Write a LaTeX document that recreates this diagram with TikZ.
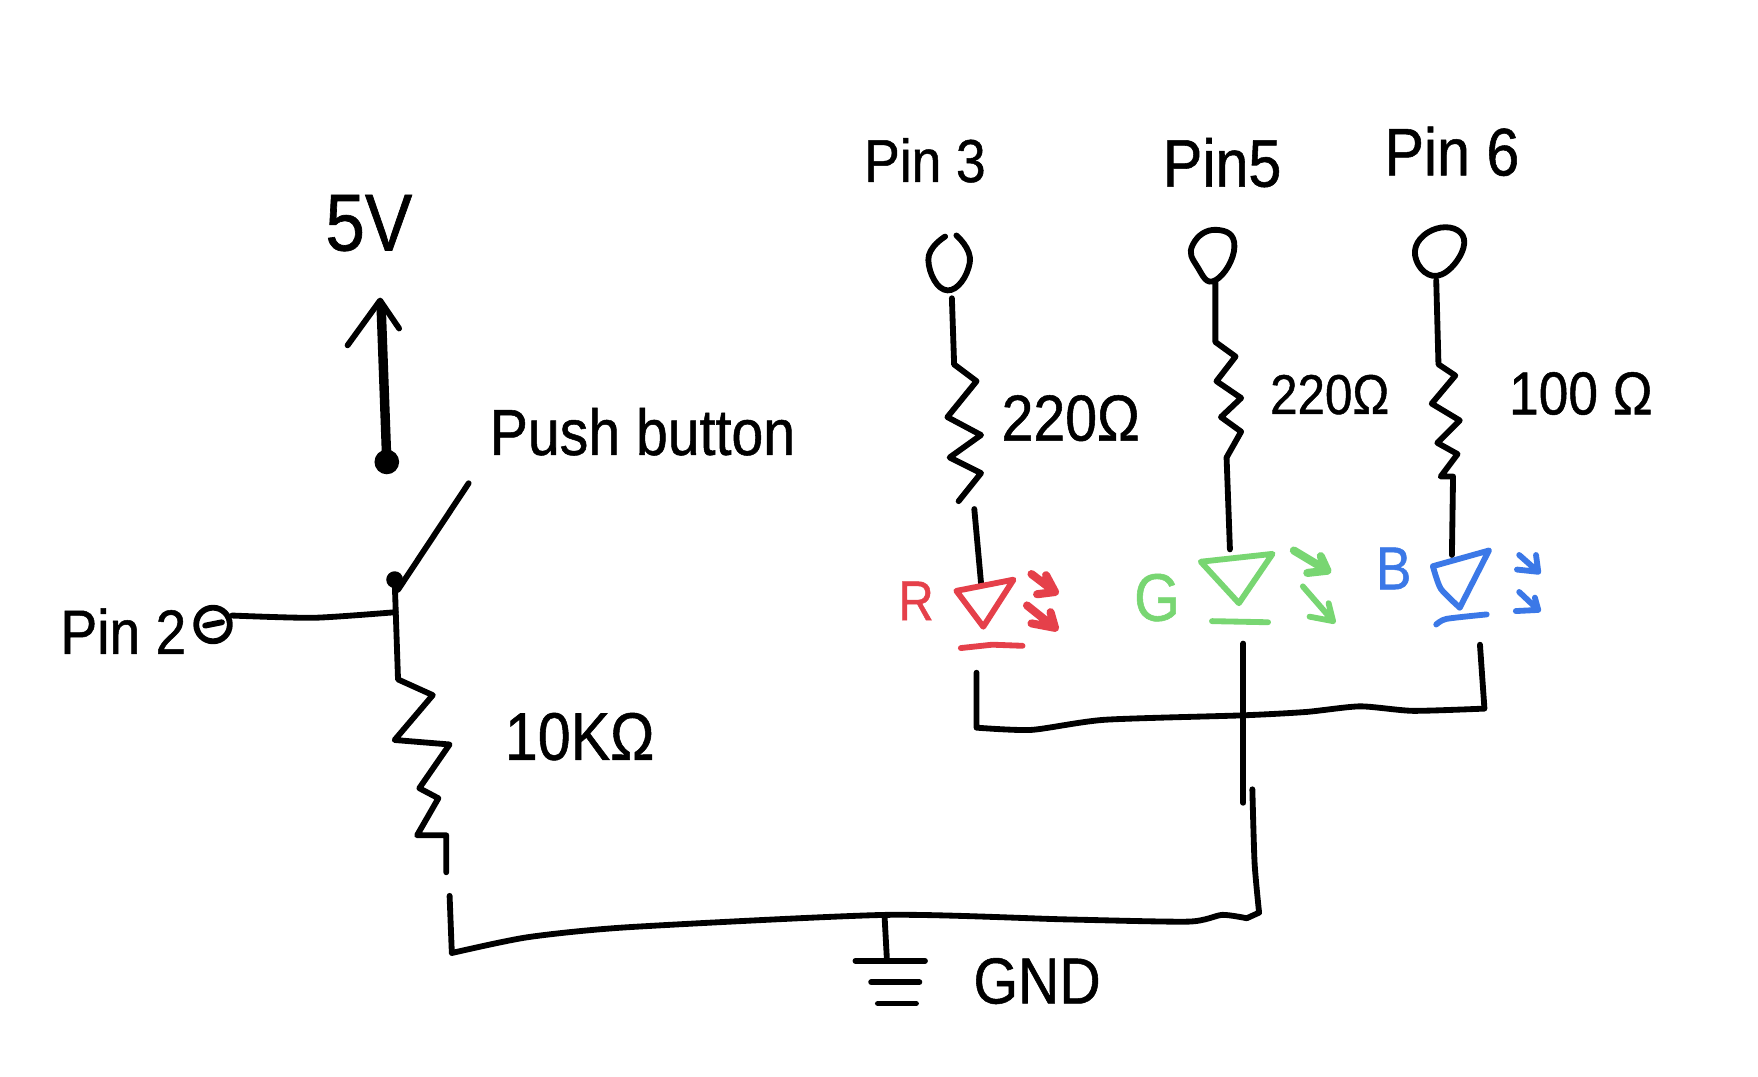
\documentclass[tikz,border=0pt]{standalone}
\usepackage{fontspec}
\setmainfont[FakeStretch=0.88,FakeBold=0.8]{Liberation Sans}
\definecolor{ledred}{HTML}{E5404A}
\definecolor{ledgreen}{HTML}{78D672}
\definecolor{ledblue}{HTML}{3B78E7}
\tikzset{
 x=0.5pt,y=-0.5pt,
 wire/.style={line width=2.6pt,line cap=round,line join=round,black},
 hand/.style={inner sep=0pt},
 ledr/.style={line width=2.6pt,line cap=round,line join=round,color=ledred},
 ledg/.style={line width=2.6pt,line cap=round,line join=round,color=ledgreen},
 ledb/.style={line width=2.6pt,line cap=round,line join=round,color=ledblue},
 fat/.style={line width=3.6pt},
 sm/.style={smooth,tension=0.4},
 rnd/.style={smooth cycle,tension=0.9},
}
\newcommand{\fs}[1]{\fontsize{#1pt}{#1pt}\selectfont}
\begin{document}
\begin{tikzpicture}
\useasboundingbox (0,0) rectangle (1568,960);
\fill[white] (0,0) rectangle (1568,960);
% labels
\node[hand] (v5) at (329,199) {\fs{36}5V};
\node[hand] (pb) at (573,385) {\fs{29}Push button};
\node[hand] (p2) at (110,563) {\fs{28}Pin 2};
\node[hand] (p3) at (825,143) {\fs{27}Pin 3};
\node[hand] (p5) at (1090,145) {\fs{30}Pin5};
\node[hand] (p6) at (1295,135) {\fs{30}Pin 6};
\node[hand] (r1) at (955,373) {\fs{29}220Ω};
\node[hand] (r2) at (1186,352) {\fs{25}220Ω};
\node[hand] (r3) at (1410,351) {\fs{27}100 Ω};
\node[hand] (r4) at (517,657) {\fs{30}10KΩ};
\node[hand] (gnd) at (925,875) {\fs{29}GND};
\node[hand,text=ledred] (lr) at (817,536) {\fs{25}R};
\node[hand,text=ledgreen] (lg) at (1032,533) {\fs{30}G};
\node[hand,text=ledblue] (lb) at (1243,507) {\fs{27}B};
% 5V arrow
\draw[wire,line width=4.2pt] (340,275)--(345,412);
\draw[wire] (310,308)--(339,268)--(356,293);
\fill (345,412) circle (11);
% pushbutton
\fill (352,517) circle (7.5);
\draw[wire] (418,431)--(355,526);
\draw[wire] (352,517)--(355,606)--(386,620)--(352,660)--(401,664)--(374,703)--(391,712)--(372,745)--(398,745)--(398,778);
\draw[wire] plot[sm] coordinates {(207,549) (280,551) (353,546)};
\draw[wire] (190,557) circle (15);
\draw[wire] (183,558)--(198,555);
% GND
\draw[wire] (401,799)--(403,850) plot[sm] coordinates {(403,850) (470,836) (560,827) (790,816) (950,820) (1060,822) (1090,816) (1112,819)} (1112,819)--(1123,814) plot[sm] coordinates {(1123,814) (1119,770) (1117,704)};
\draw[wire] (1109,716)--(1109,574);
\draw[wire] (789,818)--(791,855);
\draw[wire] (763,857)--(825,857) (777,876)--(820,876) (783,895)--(817,895);
% LED commons
\draw[wire] (871,600)--(871,649) plot[sm] coordinates {(871,649) (920,651) (985,642) (1109,638) (1165,635) (1213,630) (1260,634) (1324,632)} (1324,632)--(1320,575);
% pin circles
\draw[wire] plot[smooth,tension=0.9] coordinates {(843,211) (828,232) (845,259) (865,234) (853,210)};
\draw[wire] plot[rnd] coordinates {(1064,218) (1085,205) (1101,220) (1084,250) (1068,238)};
\draw[wire] plot[rnd] coordinates {(1262,224) (1285,203) (1306,217) (1282,246)};
% wire+resistor
\draw[wire] plot[sm] coordinates {(849,266) (851,325)} (851,325)--(871,340)--(845,372)--(875,388)--(847,408)--(875,422)--(855,447);
\draw[wire] (869,454)--(875,520);
\draw[wire] (1084,252)--(1084,305)--(1102,318)--(1085,340)--(1107,355)--(1089,372)--(1107,385)--(1094,408)--(1097,490);
\draw[wire] (1281,250)--(1283,325)--(1298,335)--(1277,360)--(1302,375)--(1282,395)--(1300,405)--(1285,425)--(1296,425)--(1295,495);
% LEDs
\draw[ledr] (853,527)--(904,517)--(877,559)--cycle;
\draw[ledr] (857,578)--(885,575)--(912,576);
\draw[ledr,fat] (920,512)--(941,528) (933,513)--(941,528)--(925,530);
\draw[ledr,fat] (916,540)--(941,560) (937,546)--(941,560)--(920,556);
\draw[ledg] (1071,501)--(1135,494)--(1105,538)--cycle;
\draw[ledg] (1081,554)--(1131,555);
\draw[ledg,fat] (1154,491)--(1184,509) (1166,511)--(1184,509)--(1178,496);
\draw[ledg] (1162,523)--(1189,554) (1168,550)--(1189,554)--(1185,538);
\draw[ledb] (1328,491)--(1278,505) plot[sm] coordinates {(1278,505) (1285,525) (1302,542)} (1302,542)--(1328,491);
\draw[ledb] plot[sm] coordinates {(1281,557) (1290,552) (1326,548)};
\draw[ledb] (1355,495)--(1372,510) (1370,495)--(1372,510)--(1353,508);
\draw[ledb] (1355,528)--(1372,544) (1369,533)--(1372,544)--(1352,545);
\end{tikzpicture}
\end{document}
